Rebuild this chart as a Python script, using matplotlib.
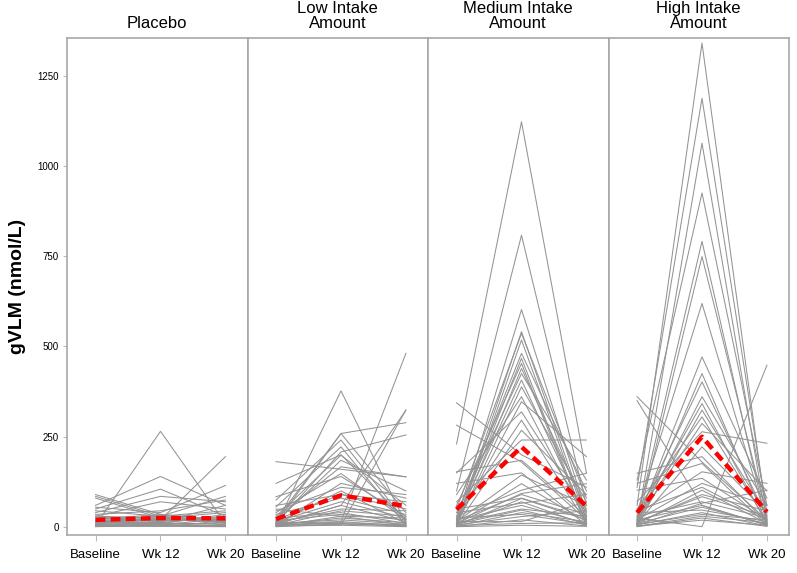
import matplotlib
matplotlib.use("Agg")
import matplotlib.pyplot as plt
import numpy as np

plt.rcParams['font.family'] = ['Liberation Sans', 'DejaVu Sans']

timepoints = ["Baseline", "Wk 12", "Wk 20"]
groups = ["Placebo", "Low Intake\nAmount", "Medium Intake\nAmount", "High Intake\nAmount"]

# individual subjects: (Baseline, Wk 12, Wk 20)
placebo = [
    (5, 265, 10), (10, 20, 195), (60, 140, 60), (50, 105, 30), (40, 85, 70),
    (30, 70, 50), (90, 35, 20), (85, 30, 15), (80, 25, 40), (55, 40, 115),
    (45, 30, 85), (35, 45, 75), (25, 15, 60), (20, 30, 45), (15, 10, 35),
    (12, 25, 20), (10, 15, 30), (8, 12, 8), (6, 5, 25), (5, 8, 12),
    (4, 3, 5), (3, 6, 2), (2, 4, 6), (18, 20, 15), (22, 35, 10),
    (28, 18, 22), (14, 22, 18), (9, 30, 5), (7, 10, 3), (16, 12, 28),
    (30, 25, 12), (3, 2, 1), (1, 5, 3),
]
low = [
    (5, 377, 10), (10, 15, 481), (8, 60, 324), (15, 5, 324), (12, 259, 289),
    (181, 160, 139), (121, 200, 20), (84, 140, 30), (75, 241, 15), (56, 222, 5),
    (20, 259, 40), (10, 208, 255), (30, 199, 60), (15, 185, 100), (25, 167, 139),
    (40, 148, 20), (5, 121, 80), (10, 100, 10), (20, 90, 50), (35, 80, 35),
    (15, 70, 25), (8, 60, 15), (12, 50, 45), (5, 45, 30), (25, 40, 10),
    (18, 35, 20), (3, 30, 5), (6, 25, 12), (10, 20, 8), (2, 15, 3),
    (4, 12, 6), (7, 10, 2), (1, 8, 4), (3, 5, 1), (50, 30, 25),
    (60, 90, 70), (45, 110, 90),
]
medium = [
    (230, 1122, 150), (100, 808, 60), (20, 602, 40), (10, 541, 30), (50, 536, 80),
    (5, 518, 20), (30, 481, 100), (15, 467, 10), (60, 453, 5), (8, 439, 50),
    (40, 425, 130), (20, 407, 25), (5, 388, 70), (90, 361, 15), (10, 347, 195),
    (150, 319, 40), (25, 296, 10), (5, 268, 90), (344, 200, 110), (70, 241, 241),
    (282, 180, 20), (153, 185, 30), (121, 150, 5), (15, 144, 60), (30, 102, 149),
    (10, 93, 120), (5, 79, 20), (40, 66, 90), (20, 60, 10), (12, 50, 30),
    (8, 47, 5), (3, 40, 15), (25, 35, 8), (6, 29, 45), (2, 20, 3),
    (15, 15, 70), (4, 10, 12), (1, 5, 2), (7, 70, 6), (18, 90, 35),
    (50, 80, 25), (9, 120, 15),
]
high = [
    (60, 1340, 20), (110, 1187, 40), (10, 1063, 10), (130, 925, 60), (20, 791, 5),
    (5, 749, 30), (40, 619, 15), (15, 471, 80), (8, 425, 10), (30, 402, 25),
    (361, 180, 20), (350, 60, 5), (12, 361, 60), (25, 342, 8), (5, 324, 35),
    (50, 305, 15), (18, 287, 100), (70, 264, 232), (10, 222, 40), (149, 195, 12),
    (121, 176, 5), (35, 153, 121), (102, 135, 20), (20, 121, 60), (8, 102, 10),
    (15, 84, 30), (5, 66, 102), (40, 47, 15), (25, 1, 448), (3, 19, 5),
    (10, 55, 8), (30, 70, 25), (6, 40, 3), (2, 30, 12), (12, 90, 45),
    (45, 110, 18), (20, 60, 6), (7, 35, 20), (1, 25, 2),
]

# group means (red dashed)
mean_placebo = [20, 25, 24]
mean_low = [22, 88, 58]
mean_medium = [49, 222, 58]
mean_high = [40, 250, 42]

subjects = [placebo, low, medium, high]
means = [mean_placebo, mean_low, mean_medium, mean_high]

fig = plt.figure(figsize=(7.97, 5.73), dpi=100)
left, right, bottom, top = 67 / 797, 789 / 797, 1 - 535 / 573, 1 - 38 / 573
fig.subplots_adjust(left=left, right=right, bottom=bottom, top=top, wspace=0)
axes = fig.subplots(1, 4, sharey=True)

x = np.arange(len(timepoints))
spine_c = "#a8a8a8"
for i, ax in enumerate(axes):
    for subj in subjects[i]:
        ax.plot(x, subj, color="#939393", lw=0.75, zorder=2)
    ax.plot(x, means[i], color="#ff0000", lw=3.2, ls=(0, (2.2, 1.2)), zorder=5)
    ax.set_xlim(-0.44, 2.34)
    ax.set_ylim(-22, 1354)
    ax.set_xticks(x)
    ax.set_xticklabels(timepoints, fontsize=9.5)
    ax.set_title(groups[i], fontsize=12, pad=7, linespacing=1.0)
    for s in ax.spines.values():
        s.set_color(spine_c)
        s.set_linewidth(1.2)
    ax.tick_params(axis="x", length=4, color="#bbbbbb", pad=6)
    if i == 0:
        ax.set_yticks([0, 250, 500, 750, 1000, 1250])
        ax.tick_params(axis="y", length=3, color="#bbbbbb", labelsize=7, pad=3)
    else:
        ax.tick_params(axis="y", left=False, labelleft=False)

axes[0].set_ylabel("gVLM (nmol/L)", fontsize=14, fontweight="bold", labelpad=8)

fig.savefig("out.png", dpi=100)
